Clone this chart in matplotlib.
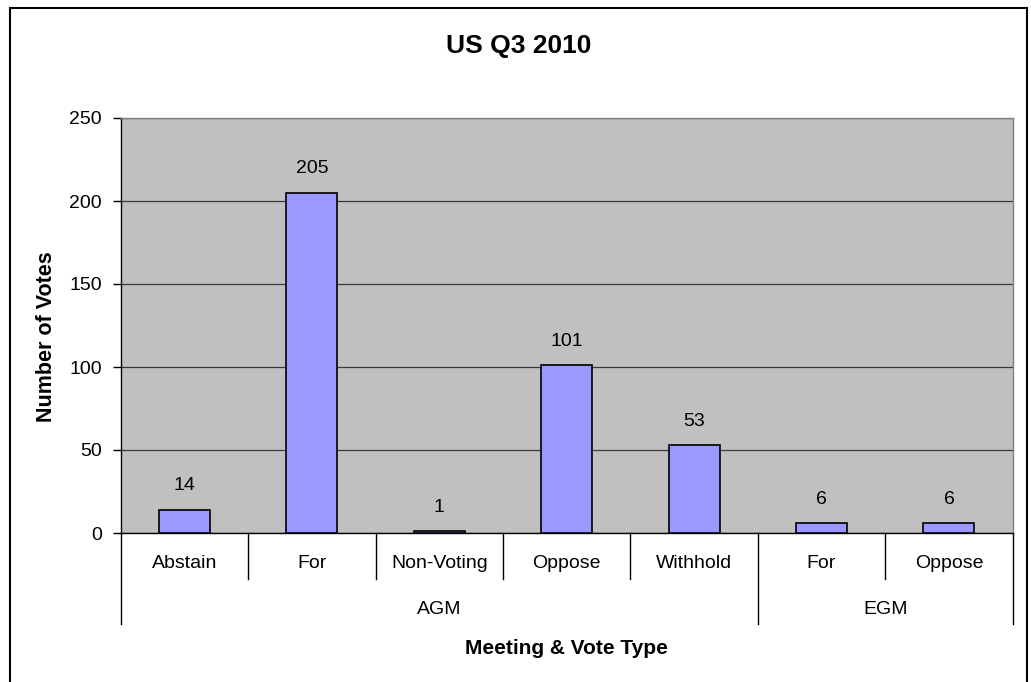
import matplotlib
matplotlib.use("Agg")
import matplotlib.pyplot as plt
from matplotlib.patches import Rectangle
from matplotlib.lines import Line2D
import matplotlib.transforms as mtransforms

plt.rcParams['font.family'] = ['Liberation Sans', 'DejaVu Sans']

title = "US Q3 2010"
categories = ["Abstain", "For", "Non-Voting", "Oppose", "Withhold", "For", "Oppose"]
groups = ["AGM", "AGM", "AGM", "AGM", "AGM", "EGM", "EGM"]
values = [14, 205, 1, 101, 53, 6, 6]
y_ticks = [0, 50, 100, 150, 200, 250]
x_label = "Meeting & Vote Type"
y_label = "Number of Votes"

FS = 14
W, H = 1031, 682
fig = plt.figure(figsize=(W / 100, H / 100), dpi=100)
fig.patch.set_facecolor('white')

# outer border
fig.patches.append(Rectangle((10 / W, -0.01), (1027 - 10) / W, (H - 8) / H + 0.01,
                             transform=fig.transFigure, fill=False,
                             edgecolor='black', linewidth=1.5, zorder=0))

left, right, top, bottom = 120.7, 1012.7, 118, 533
ax = fig.add_axes([left / W, 1 - bottom / H, (right - left) / W, (bottom - top) / H])
ax.set_facecolor('#C0C0C0')

x = list(range(len(categories)))
ax.bar(x, values, width=0.4, color='#9999FF', edgecolor='black', linewidth=1.2, zorder=3)
ax.set_xlim(-0.5, len(categories) - 0.5)
ax.set_ylim(0, 250)
ax.set_yticks(y_ticks)
ax.set_yticklabels([str(t) for t in y_ticks], fontsize=FS)
ax.yaxis.grid(True, color='#3a3a3a', linewidth=0.9, zorder=1)
ax.set_axisbelow(True)
ax.tick_params(axis='y', direction='out', length=6, width=1, pad=7.5, color='black')
ax.set_xticks([])

for s in ['top', 'right']:
    ax.spines[s].set_color('#808080')
    ax.spines[s].set_linewidth(1)
ax.spines['left'].set_color('black')
ax.spines['bottom'].set_color('black')
ax.spines['left'].set_linewidth(1)
ax.spines['bottom'].set_linewidth(1)

for xi, v in zip(x, values):
    ax.annotate(str(v), (xi, v), xytext=(0, 11), textcoords='offset points',
                ha='center', va='bottom', fontsize=FS)

trans = mtransforms.blended_transform_factory(ax.transData, ax.transAxes)
axh = bottom - top
y_inner = -(579 - bottom) / axh
y_outer = -(624 - bottom) / axh
y_cat = -(564 - bottom) / axh
y_grp = -(609 - bottom) / axh

for xi, c in zip(x, categories):
    ax.text(xi, y_cat, c, transform=trans, ha='center', va='center', fontsize=FS)

n = len(categories)
group_bounds = [0]
for i in range(1, n):
    if groups[i] != groups[i - 1]:
        group_bounds.append(i)
group_bounds.append(n)
for i in range(n + 1):
    xb = i - 0.5
    yend = y_outer if i in group_bounds else y_inner
    ax.add_line(Line2D([xb, xb], [0, yend], transform=trans, color='black',
                       linewidth=1, clip_on=False))

for gi in range(len(group_bounds) - 1):
    a, b = group_bounds[gi], group_bounds[gi + 1]
    ax.text((a + b - 1) / 2, y_grp, groups[a], transform=trans, ha='center',
            va='center', fontsize=FS)

fig.text(566 / W, 1 - 648 / H, x_label, ha='center', va='center', fontsize=15,
         fontweight='bold')
fig.text(47 / W, 1 - 337 / H, y_label, ha='center', va='center', fontsize=15.5,
         fontweight='bold', rotation=90)
fig.text(519 / W, 1 - 46 / H, title, ha='center', va='center', fontsize=19,
         fontweight='bold')

fig.savefig('out.png', dpi=100)
